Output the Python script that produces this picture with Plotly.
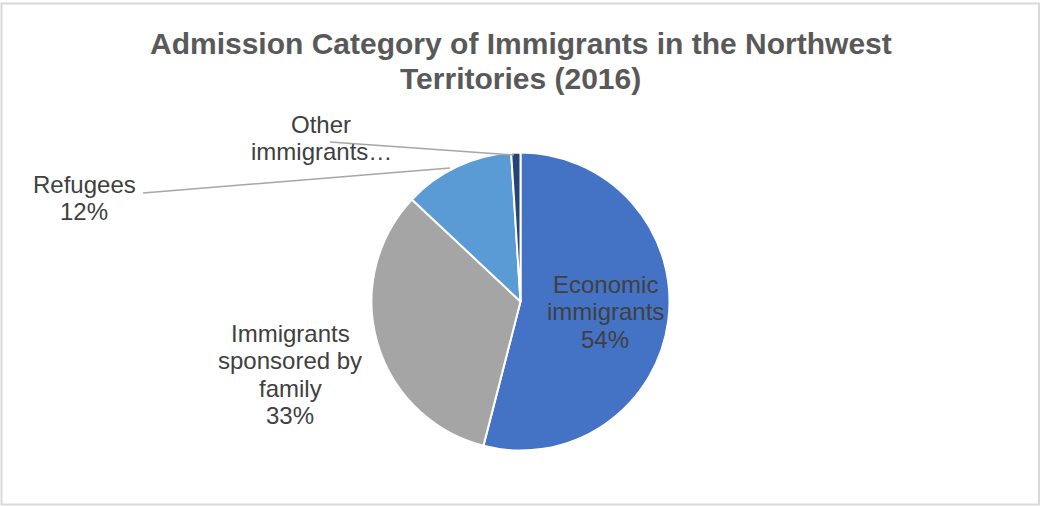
import plotly.graph_objects as go

# Admission categories, immigrants in the Northwest Territories, 2016 (share, %)
categories = ["Economic immigrants", "Immigrants sponsored by family", "Refugees", "Other immigrants"]
shares = [54, 33, 12, 1]
label_lines = [
    ["Economic", "immigrants"],
    ["Immigrants", "sponsored by", "family"],
    ["Refugees"],
    ["Other", "immigrants…"],
]
show_pct = [True, True, True, False]
colors = ["#4472C4", "#A5A5A5", "#5B9BD5", "#264478"]
title_lines = ["Admission Category of Immigrants in the Northwest", "Territories (2016)"]

W, H = 1041, 506
FONT = "Liberation Sans, Arial, sans-serif"


def px(x):
    return x / W


def py(y):
    return 1 - y / H


# pie placement (pixels)
cx, cy, r = 520.5, 301.5, 149

fig = go.Figure(
    go.Pie(
        labels=categories,
        values=shares,
        sort=False,
        direction="clockwise",
        rotation=0,
        marker=dict(colors=colors, line=dict(color="white", width=2)),
        textinfo="none",
        hoverinfo="label+percent",
        showlegend=False,
        domain=dict(x=[px(cx - r), px(cx + r)], y=[py(cy + r), py(cy - r)]),
    )
)

# data labels: horizontal centre and first baseline (pixels), line step
label_pos = [(605, 293), (290, 342), (84, 193), (321, 133)]
LINE_STEP = 27.2
LABEL_SIZE = 24
leaders = [None, None, ((143, 193), (450, 168)), ((330, 142), (514, 155))]


def line_annotation(text, x, baseline, size, color, bold=False):
    # each line is placed by its baseline; the box middle sits ~0.35em above it
    return dict(
        x=px(x), y=py(baseline - 0.35 * size), xref="paper", yref="paper",
        xanchor="center", yanchor="middle", showarrow=False,
        text=f"<b>{text}</b>" if bold else text,
        font=dict(family=FONT, size=size, color=color),
    )


annotations = []
for i, cat in enumerate(categories):
    lines = list(label_lines[i])
    if show_pct[i]:
        lines.append(f"{shares[i]:.0f}%")
    x, y0 = label_pos[i]
    for k, txt in enumerate(lines):
        annotations.append(line_annotation(txt, x, y0 + k * LINE_STEP, LABEL_SIZE, "#404040"))

for k, txt in enumerate(title_lines):
    annotations.append(line_annotation(txt, 520.5, 54 + k * 35, 30, "#595959", bold=True))

shapes = [
    dict(type="rect", xref="paper", yref="paper",
         x0=px(1.5), x1=px(1039), y0=py(504.5), y1=py(3.5),
         line=dict(color="#D9D9D9", width=2), fillcolor="rgba(0,0,0,0)", layer="below")
]
for seg in leaders:
    if seg is None:
        continue
    (x0, y0), (x1, y1) = seg
    shapes.append(
        dict(type="line", xref="paper", yref="paper",
             x0=px(x0), y0=py(y0), x1=px(x1), y1=py(y1),
             line=dict(color="#A6A6A6", width=1.5))
    )

fig.update_layout(
    width=W, height=H,
    margin=dict(l=0, r=0, t=0, b=0),
    paper_bgcolor="white", plot_bgcolor="white",
    annotations=annotations, shapes=shapes,
)

fig.write_html("out.html")
